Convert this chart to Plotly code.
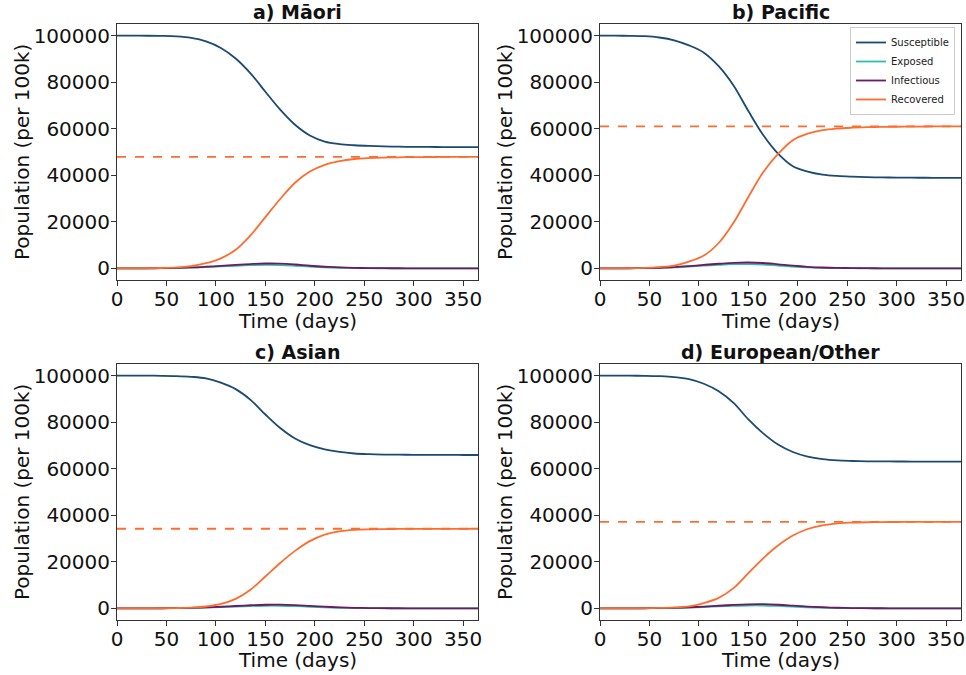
import plotly.graph_objects as go

days = [0, 15, 30, 45, 60, 75, 90, 105, 120, 135, 150, 165, 180, 195, 210, 225, 240, 255, 270, 285, 300, 315, 330, 345, 360, 365]

panel_titles = ["a) Māori", "b) Pacific", "c) Asian", "d) European/Other"]
series_names = ["Susceptible", "Exposed", "Infectious", "Recovered"]
x_title = "Time (days)"
y_title = "Population (per 100k)"

# a) Māori
maori_S = [100000, 99990, 99960, 99880, 99650, 99000, 97500, 94700, 90200, 83800, 75900, 68200, 61700, 57100, 54500, 53400, 52900, 52600, 52400, 52280, 52200, 52160, 52130, 52110, 52100, 52100]
maori_E = [0, 10, 30, 70, 150, 300, 540, 820, 1100, 1350, 1480, 1420, 1130, 760, 460, 260, 140, 80, 45, 25, 14, 8, 4, 2, 1, 1]
maori_I = [0, 12, 38, 90, 200, 390, 720, 1100, 1500, 1850, 2080, 2030, 1650, 1120, 700, 400, 220, 125, 70, 40, 22, 12, 6, 3, 2, 1]
maori_R = [0, 10, 50, 150, 400, 1000, 2200, 4300, 8000, 14200, 22000, 29800, 36800, 41600, 44500, 46100, 47000, 47400, 47600, 47720, 47800, 47840, 47870, 47890, 47900, 47900]

# b) Pacific
pacific_S = [100000, 99980, 99920, 99750, 99200, 98000, 95800, 92700, 86900, 78600, 67600, 57300, 49300, 43900, 41600, 40300, 39700, 39400, 39200, 39080, 39000, 38960, 38930, 38910, 38900, 38900]
pacific_E = [0, 12, 40, 100, 210, 420, 760, 1150, 1500, 1780, 1850, 1650, 1200, 750, 420, 230, 120, 65, 35, 20, 11, 6, 3, 2, 1, 1]
pacific_I = [0, 15, 50, 125, 270, 530, 980, 1500, 1980, 2380, 2520, 2300, 1750, 1150, 680, 380, 210, 115, 60, 33, 18, 10, 5, 3, 2, 1]
pacific_R = [0, 15, 70, 200, 530, 1200, 2900, 5500, 10900, 19600, 30700, 41300, 49200, 55100, 57900, 59400, 60100, 60450, 60650, 60780, 60860, 60920, 60960, 60980, 61000, 61000]

# c) Asian
asian_S = [100000, 99995, 99980, 99940, 99820, 99500, 98800, 97000, 94200, 89600, 83300, 77500, 73000, 70100, 68300, 67200, 66550, 66250, 66100, 66020, 65980, 65950, 65930, 65910, 65900, 65900]
asian_E = [0, 4, 15, 40, 90, 170, 320, 520, 760, 980, 1120, 1120, 960, 700, 450, 270, 150, 85, 45, 25, 14, 8, 4, 2, 1, 1]
asian_I = [0, 5, 20, 52, 115, 220, 420, 690, 1010, 1330, 1560, 1620, 1430, 1080, 720, 440, 250, 140, 75, 42, 23, 13, 7, 4, 2, 2]
asian_R = [0, 4, 15, 50, 140, 350, 800, 1900, 4100, 8000, 13700, 19500, 24700, 28900, 31700, 33100, 33750, 33980, 34080, 34130, 34160, 34180, 34190, 34195, 34200, 34200]

# d) European/Other
euro_S = [100000, 99995, 99975, 99930, 99780, 99400, 98500, 96500, 93300, 88300, 81200, 75200, 70400, 67200, 65200, 64100, 63550, 63320, 63200, 63140, 63110, 63090, 63070, 63060, 63050, 63050]
euro_E = [0, 4, 16, 45, 100, 190, 360, 580, 840, 1080, 1230, 1220, 1030, 740, 470, 280, 155, 85, 45, 25, 14, 8, 4, 2, 1, 1]
euro_I = [0, 5, 21, 58, 130, 245, 470, 770, 1120, 1470, 1720, 1780, 1560, 1170, 770, 470, 260, 145, 78, 43, 24, 13, 7, 4, 2, 2]
euro_R = [0, 4, 18, 60, 170, 400, 900, 2300, 4500, 8700, 15100, 21500, 27000, 31300, 34100, 35700, 36550, 36850, 37000, 37080, 37120, 37150, 37170, 37190, 37200, 37200]

final_recovered = [47900, 61000, 34200, 37200]

x_ticks = [0, 50, 100, 150, 200, 250, 300, 350]
y_ticks = [0, 20000, 40000, 60000, 80000, 100000]

panels = [
    (maori_S, maori_E, maori_I, maori_R),
    (pacific_S, pacific_E, pacific_I, pacific_R),
    (asian_S, asian_E, asian_I, asian_R),
    (euro_S, euro_E, euro_I, euro_R),
]

colors = ["#1b4a72", "#2bbfae", "#6e1a5e", "#ff6d2e"]

# body margin is removed by post_script, so page pixels == figure pixels
W, H = 966, 675


def px_x(p):
    return p / W


def px_y(p):
    return 1 - p / H


x_doms = [[px_x(117), px_x(478)], [px_x(600), px_x(961)]]
y_doms = [[px_y(280), px_y(24)], [px_y(620), px_y(364)]]
title_y = [px_y(12), px_y(352)]
xtitle_y = [px_y(321), px_y(660)]
ytitle_x = [px_x(22), px_x(505)]

fig = go.Figure()
FONT = "DejaVu Sans"
TXT = "#111"

for k, (S, E, I, R) in enumerate(panels):
    row, col = divmod(k, 2)
    ax = "" if k == 0 else str(k + 1)
    xref, yref = "x" + ax, "y" + ax
    for j, (vals, name) in enumerate(zip((S, E, I, R), series_names)):
        fig.add_trace(go.Scatter(
            x=days, y=vals, mode="lines", name=name,
            line=dict(color=colors[j], width=1.8, shape="spline", smoothing=1.0),
            xaxis=xref, yaxis=yref, showlegend=(k == 1),
        ))
    fig.add_shape(type="line", xref=xref + " domain", yref=yref,
                  x0=0, x1=1, y0=final_recovered[k], y1=final_recovered[k],
                  line=dict(color=colors[3], width=1.8, dash="dash"), layer="below")
    axis_common = dict(showline=True, mirror=True, linecolor="#333", linewidth=1,
                       ticks="outside", ticklen=5, tickcolor="#333", showgrid=False,
                       zeroline=False, automargin=False,
                       tickfont=dict(size=20, color=TXT, family=FONT))
    fig.update_layout({
        "xaxis" + ax: dict(domain=x_doms[col], range=[0, 365], tickvals=x_ticks,
                           anchor=yref, ticklabelstandoff=-4, **axis_common),
        "yaxis" + ax: dict(domain=y_doms[row], range=[-5000, 105000], tickvals=y_ticks,
                           tickformat="d", anchor=xref, ticklabelstandoff=-3, **axis_common),
    })
    xc = (x_doms[col][0] + x_doms[col][1]) / 2
    yc = (y_doms[row][0] + y_doms[row][1]) / 2
    fig.add_annotation(text="<b>" + panel_titles[k] + "</b>", xref="paper", yref="paper",
                       x=xc, y=title_y[row], xanchor="center", yanchor="middle",
                       showarrow=False, font=dict(size=19, color=TXT, family=FONT))
    fig.add_annotation(text=x_title, xref="paper", yref="paper",
                       x=xc, y=xtitle_y[row], xanchor="center", yanchor="middle",
                       showarrow=False, font=dict(size=20, color=TXT, family=FONT))
    fig.add_annotation(text=y_title, xref="paper", yref="paper", textangle=-90,
                       x=ytitle_x[col], y=yc, xanchor="center", yanchor="middle",
                       showarrow=False, font=dict(size=20, color=TXT, family=FONT))

fig.update_layout(
    width=W, height=H, margin=dict(l=0, r=0, t=0, b=0, autoexpand=False),
    plot_bgcolor="white", paper_bgcolor="white",
    legend=dict(x=px_x(955), y=px_y(27), xanchor="right", yanchor="top",
                bgcolor="white", bordercolor="#ccc", borderwidth=1,
                font=dict(size=10, color="#222", family=FONT), itemwidth=30,
                tracegroupgap=0),
)

fig.write_html("out.html", config={"displayModeBar": False},
               post_script="document.body.style.margin='0';")
